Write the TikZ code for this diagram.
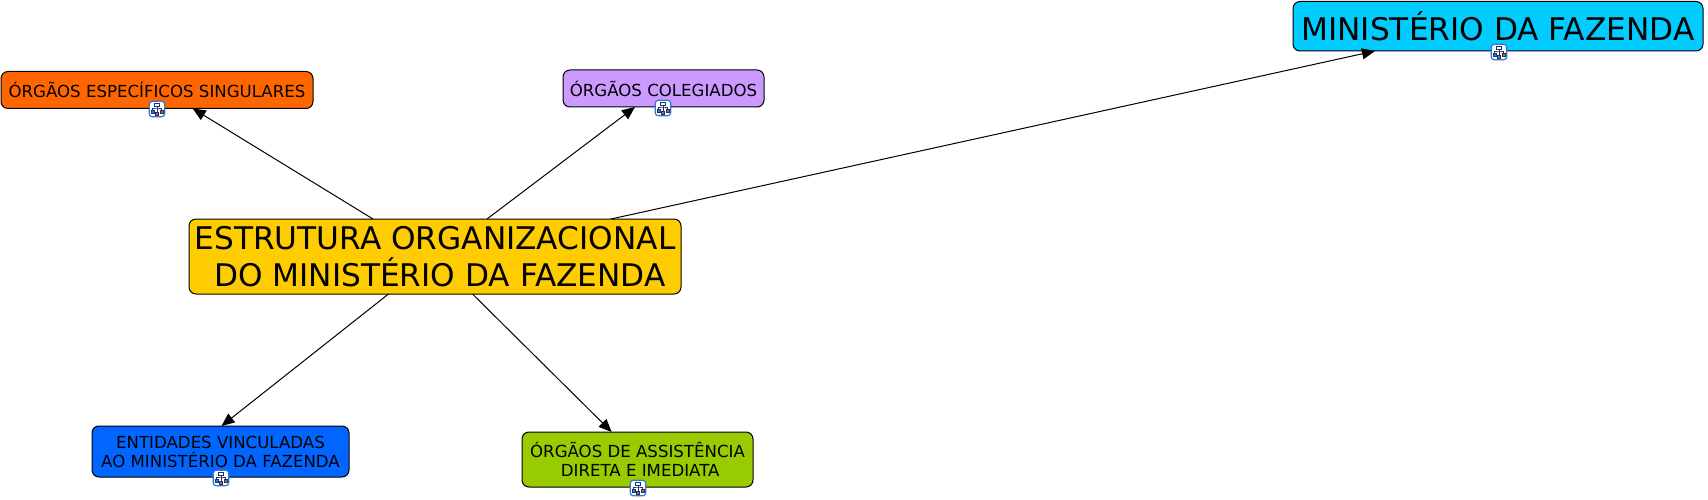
\documentclass[tikz,border=0pt]{standalone}
\usepackage{fontspec}
\setmainfont{DejaVu Sans}
\usetikzlibrary{arrows.meta}
\definecolor{orangebox}{RGB}{255,102,0}
\definecolor{purplebox}{RGB}{204,153,255}
\definecolor{cyanbox}{RGB}{0,204,255}
\definecolor{yellowbox}{RGB}{255,204,0}
\definecolor{bluebox}{RGB}{0,102,255}
\definecolor{greenbox}{RGB}{153,204,0}
\definecolor{iconedge}{RGB}{50,120,210}
\definecolor{icondark}{RGB}{30,50,120}
\tikzset{
	>={Triangle[length=13pt,width=11pt]},
	link/.style={->,line width=1pt},
	concept/.style={draw=black,line width=1pt,rounded corners=7pt,align=center,inner sep=0pt,outer sep=0pt,text=black},
	small/.style={concept,font=\fontsize{16.6}{19}\selectfont},
	big/.style={concept,font=\fontsize{31.2}{37}\selectfont},
	iconbox/.style={draw=iconedge,fill=white,line width=1.2pt,rounded corners=3pt,minimum size=15.5pt,inner sep=0pt,outer sep=0pt},
	iconpart/.style={draw=icondark,fill=white,line width=.6pt,minimum size=3pt,inner sep=0pt}
}
% small hierarchy icon under a concept box
\newcommand{\hierarchy}[1]{
	\node[iconbox] (#1) {};
	\begin{scope}[shift={(#1)}]
		\node[iconpart,minimum width=5pt] (#1t) at (0,-4.5) {};
		\node[iconpart,fill=iconedge] (#1a) at (-4.5,2.5) {};
		\node[iconpart,fill=orange!80!black] (#1b) at (0,4.5) {};
		\node[iconpart,fill=orange!80!black] (#1c) at (4.5,2.5) {};
		\draw[line width=.6pt,icondark] (#1t) -- (#1b) (#1a) |- (0,-1) -| (#1c);
	\end{scope}
}
\begin{document}
\begin{tikzpicture}[x=1pt,y=-1pt]
	\useasboundingbox (0,0) rectangle (1708,500);
	\node[small,fill=orangebox,minimum width=312pt,minimum height=37pt] (especificos) at (157,90) {ÓRGÃOS ESPECÍFICOS SINGULARES};
	\node[small,fill=purplebox,minimum width=201pt,minimum height=37pt] (colegiados) at (663.5,88.5) {ÓRGÃOS COLEGIADOS};
	\node[big,fill=cyanbox,minimum width=410pt,minimum height=49.5pt] (ministerio) at (1498,26.25) {MINISTÉRIO DA FAZENDA};
	\node[big,fill=yellowbox,minimum width=492pt,minimum height=75pt] (estrutura) at (435,256.5) {ESTRUTURA ORGANIZACIONAL\\~DO MINISTÉRIO DA FAZENDA};
	\node[small,fill=bluebox,minimum width=257pt,minimum height=51pt] (entidades) at (220.5,451.5) {ENTIDADES VINCULADAS\\AO MINISTÉRIO DA FAZENDA};
	\node[small,fill=greenbox,minimum width=231pt,minimum height=55pt] (assistencia) at (637.5,459.5) {ÓRGÃOS DE ASSISTÊNCIA\\~DIRETA E IMEDIATA};
	\draw[link] ([xshift=-62pt]estrutura.north) to ([xshift=35.7pt]especificos.south);
	\draw[link] ([xshift=52pt]estrutura.north) to ([xshift=-28.5pt]colegiados.south);
	\draw[link] ([xshift=176pt]estrutura.north) to ([xshift=-123pt]ministerio.south);
	\draw[link] ([xshift=-46.5pt]estrutura.south) to ([xshift=1pt]entidades.north);
	\draw[link] ([xshift=37.5pt]estrutura.south) to ([xshift=-25.8pt]assistencia.north);
	\coordinate (i1) at (157,109);
	\coordinate (i2) at (663,108);
	\coordinate (i3) at (1499,52);
	\coordinate (i4) at (221,478);
	\coordinate (i5) at (638,488);
	\foreach \n/\p in {icona/i1,iconb/i2,iconc/i3,icond/i4,icone/i5}{
		\begin{scope}[shift={(\p)}]
			\hierarchy{\n}
		\end{scope}
	}
\end{tikzpicture}
\end{document}
